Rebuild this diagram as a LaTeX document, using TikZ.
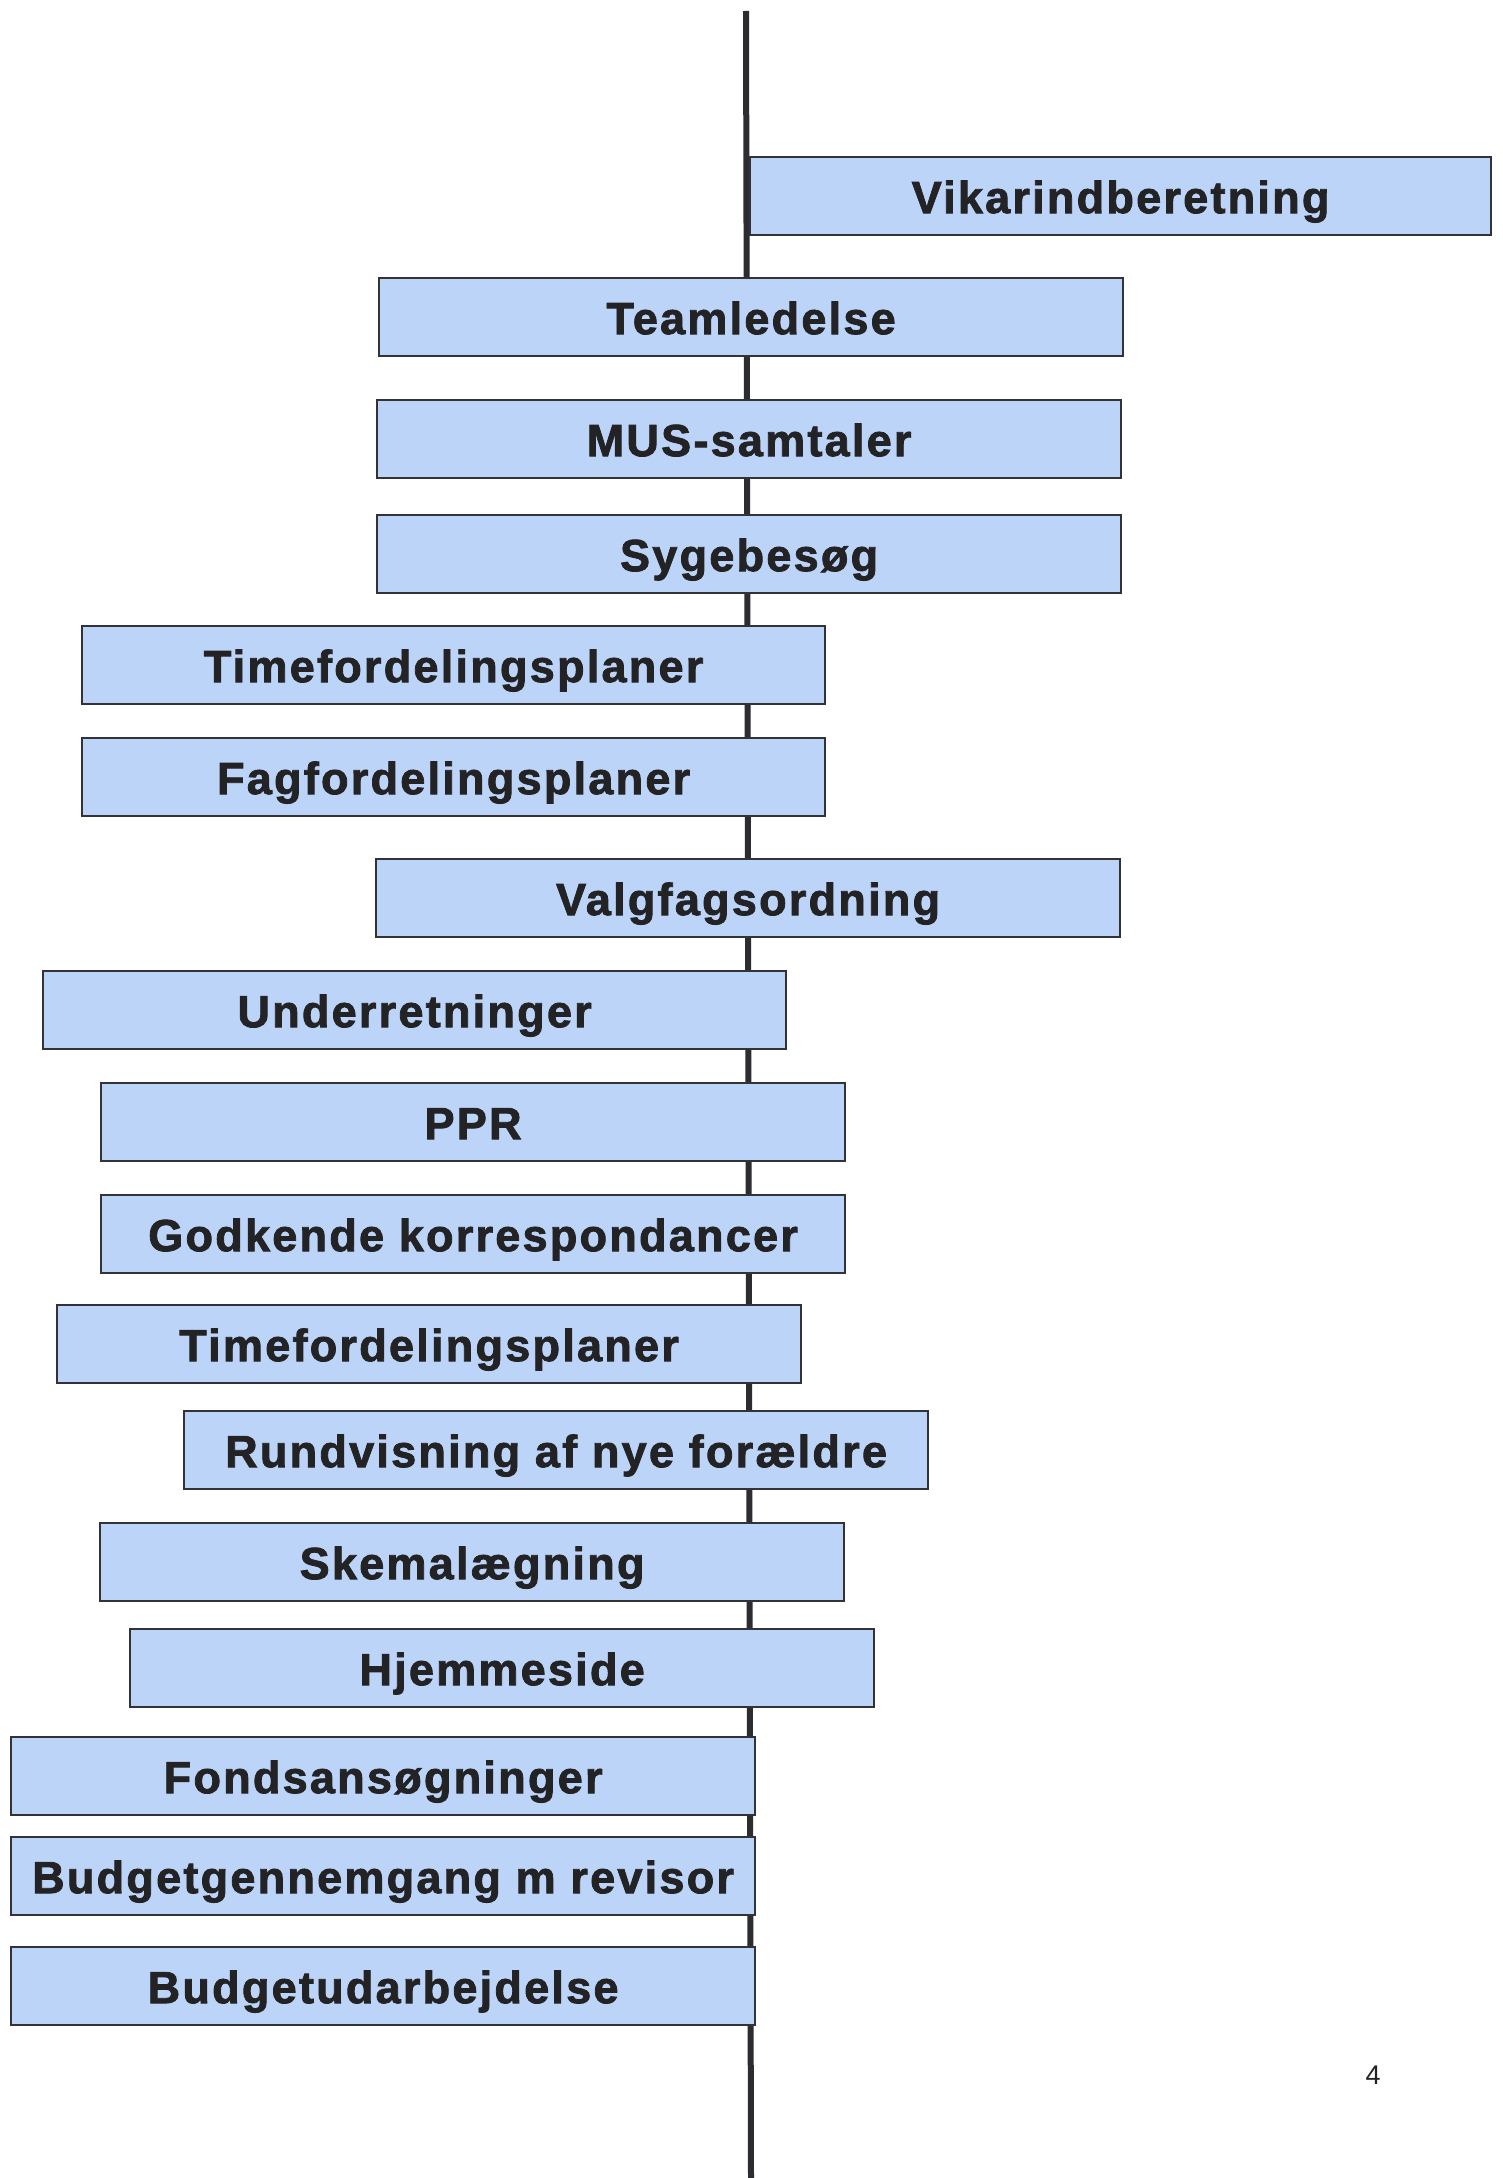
\documentclass[tikz,border=0pt]{standalone}
\usepackage{fontspec}
\setmainfont{Liberation Sans}
\newfontfamily\boxfont[FakeBold=1.8,LetterSpace=5]{Liberation Sans Bold}
\definecolor{boxfill}{RGB}{188,212,248}
\definecolor{boxline}{RGB}{50,50,55}
\definecolor{txt}{RGB}{35,35,38}
\tikzset{
  task/.style={draw=boxline, line width=2.2pt, fill=boxfill, rectangle, anchor=north west,
    minimum height=78pt, inner sep=0pt, text=txt,
    font=\boxfont\fontsize{45}{48}\selectfont},
  axisline/.style={draw=boxline!90!black, line width=6pt}
}
\begin{document}
\begin{tikzpicture}[x=1pt,y=-1pt]
\useasboundingbox (0,0) rectangle (1503,2178);
\fill[white] (0,0) rectangle (1503,2178);
\coordinate (top) at (746,11);
\coordinate (bot) at (751,2178);
\draw[axisline] (top) -- (bot);
\newcommand{\taskbox}[5]{\node[task, minimum width=#4pt] (#1) at (#2,#3) {\raisebox{-17pt}[0pt][0pt]{#5}};}
\taskbox{b1}{749}{156}{741}{Vikarindberetning}
\taskbox{b2}{378}{277}{744}{Teamledelse}
\taskbox{b3}{376}{399}{744}{MUS-samtaler}
\taskbox{b4}{376}{514}{744}{Sygebesøg}
\taskbox{b5}{81}{625}{743}{Timefordelingsplaner}
\taskbox{b6}{81}{737}{743}{Fagfordelingsplaner}
\taskbox{b7}{375}{858}{744}{Valgfagsordning}
\taskbox{b8}{42}{970}{743}{Underretninger}
\taskbox{b9}{100}{1082}{744}{PPR}
\taskbox{b10}{100}{1194}{744}{Godkende korrespondancer}
\taskbox{b11}{56}{1304}{744}{Timefordelingsplaner}
\taskbox{b12}{183}{1410}{744}{Rundvisning af nye forældre}
\taskbox{b13}{99}{1522}{744}{Skemalægning}
\taskbox{b14}{129}{1628}{744}{Hjemmeside}
\taskbox{b15}{10}{1736}{744}{Fondsansøgninger}
\taskbox{b16}{10}{1836}{744}{Budgetgennemgang m revisor}
\taskbox{b17}{10}{1946}{744}{Budgetudarbejdelse}
\node[text=txt, font=\fontsize{27}{30}\selectfont] (pg) at (1373,2075) {4};
\end{tikzpicture}
\end{document}
